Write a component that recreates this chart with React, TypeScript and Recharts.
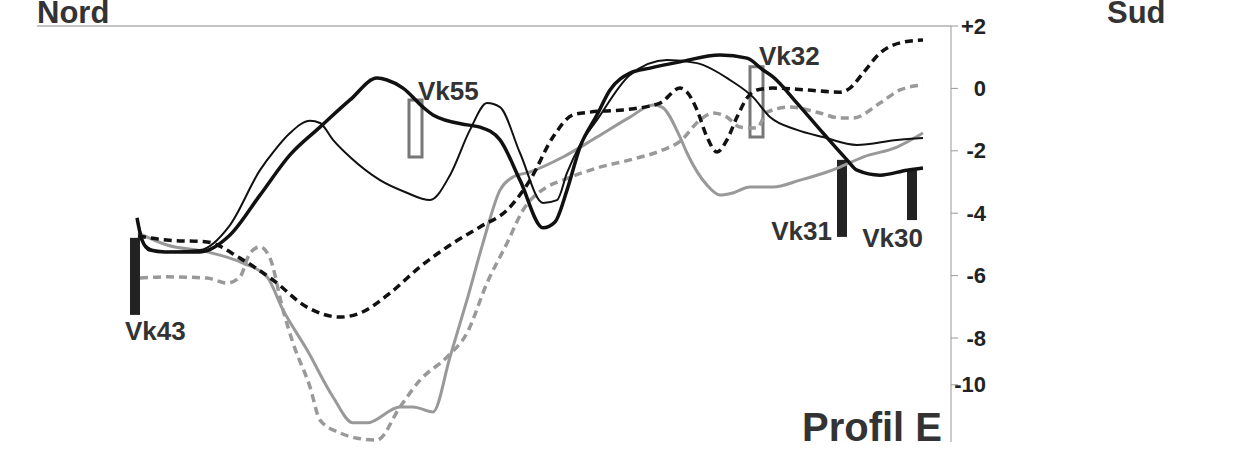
import React from 'react';
import { LineChart, Line, XAxis, YAxis, ReferenceLine, ReferenceArea } from 'recharts';

// distance along profile (arbitrary units), depth/elevation (m)
const thickBlack: [number, number][] = [
  [100, -4.15], [105, -4.86], [113, -5.18], [128, -5.24], [163, -5.24], [193, -4.7], [223, -3.42],
  [253, -2.13], [283, -1.24], [313, -0.37], [340, 0.33], [350, 0.27], [366, 0.01], [386, -0.6],
  [396, -0.85], [430, -1.17], [443, -1.24], [463, -1.65], [483, -2.94], [506, -4.47], [518, -4.28],
  [530, -3.26], [543, -1.88], [560, -0.85], [573, -0.05], [593, 0.49], [613, 0.65], [643, 0.85],
  [683, 1.07], [710, 0.97], [726, 0.59], [736, 0.37], [760, -0.47], [786, -1.43], [810, -2.29],
  [820, -2.62], [843, -2.78], [870, -2.62], [886, -2.55],
];

const thinBlack: [number, number][] = [
  [100, -4.15], [108, -5.02], [123, -5.24], [163, -5.18], [193, -4.38], [223, -2.62], [238, -1.97],
  [253, -1.43], [273, -1.04], [283, -1.11], [296, -1.65], [313, -2.2], [343, -2.94], [368, -3.32],
  [393, -3.58], [413, -2.78], [433, -1.33], [450, -0.47], [463, -0.6], [483, -2.07], [506, -3.67],
  [520, -3.58], [530, -2.71], [543, -1.81], [560, -1.01], [593, 0.43], [630, 0.91], [660, 0.81],
  [693, 0.27], [716, -0.28], [733, -0.92], [760, -1.33], [786, -1.56], [820, -1.81], [860, -1.65],
  [886, -1.59],
];

const blackDashed: [number, number][] = [
  [101, -4.73], [130, -4.86], [170, -4.92], [203, -5.44], [236, -6.14], [270, -7.01], [303, -7.33],
  [323, -7.2], [353, -6.56], [383, -5.72], [416, -4.96], [443, -4.44], [470, -3.9], [493, -2.94],
  [516, -1.56], [536, -0.85], [553, -0.76], [586, -0.69], [623, -0.47], [643, 0.01], [650, -0.12],
  [660, -0.69], [670, -1.56], [680, -2.04], [690, -1.65], [700, -0.92], [710, -0.31], [720, -0.05],
  [736, 0.01], [770, -0.05], [803, -0.12], [813, 0.01], [826, 0.49], [843, 1.13], [863, 1.46],
  [886, 1.55],
];

const graySolid: [number, number][] = [
  [101, -4.63], [130, -5.02], [170, -5.24], [206, -5.6], [230, -6.04], [246, -7.1], [270, -8.38],
  [296, -9.89], [316, -10.72], [330, -10.72], [363, -10.21], [376, -10.21], [396, -10.37],
  [413, -8.61], [430, -6.78], [446, -4.95], [463, -3.26], [476, -2.84], [493, -2.68], [526, -2.2],
  [560, -1.56], [593, -0.92], [616, -0.53], [625, -0.6], [643, -1.56], [650, -2.07], [670, -3.1],
  [683, -3.42], [696, -3.35], [713, -3.16], [736, -3.16], [763, -2.94], [790, -2.68], [803, -2.52],
  [826, -2.2], [860, -1.88], [886, -1.43],
];

const grayDashed: [number, number][] = [
  [103, -6.08], [130, -6.04], [170, -6.08], [190, -6.24], [203, -6.04], [213, -5.28], [223, -5.08],
  [233, -5.44], [246, -7.1], [256, -8.16], [273, -9.57], [283, -10.63], [303, -11.04], [320, -11.21],
  [340, -11.27], [363, -10.21], [383, -9.35], [410, -8.61], [430, -7.84], [450, -6.24], [470, -4.96],
  [486, -3.9], [510, -3.16], [526, -2.94], [560, -2.55], [593, -2.29], [626, -1.97], [643, -1.7],
  [663, -1.01], [676, -0.79], [690, -0.92], [703, -1.24], [720, -1.27], [730, -0.76], [753, -0.6],
  [783, -0.79], [803, -0.95], [816, -0.95], [843, -0.47], [863, -0.05], [886, 0.11],
];

// boreholes
const wellNames = ['Vk43', 'Vk55', 'Vk32', 'Vk31', 'Vk30'];
const wellFrom = [93, 372, 713, 800, 870];
const wellTo = [103, 385, 726, 810, 880];
const wellTop = [-4.79, -0.37, 0.69, -2.29, -2.62];
const wellBottom = [-7.26, -2.2, -1.56, -4.76, -4.22];
const wellFilled = [true, false, false, true, true];

const tickValues = [2, 0, -2, -4, -6, -8, -9.5];
const tickLabels = ['+2', '0', '-2', '-4', '-6', '-8', '-10'];

const FONT = '"Liberation Sans", Arial, Helvetica, sans-serif';

// label placement (styling only)
const labelPlace: Record<string, { anchor: 'start' | 'end'; ref: 'left' | 'right'; dx: number; vref: 'top' | 'bottom'; dy: number }> = {
  Vk43: { anchor: 'start', ref: 'left', dx: -5, vref: 'bottom', dy: 25 },
  Vk55: { anchor: 'start', ref: 'left', dx: 9, vref: 'top', dy: 0 },
  Vk32: { anchor: 'start', ref: 'left', dx: 9, vref: 'top', dy: -2 },
  Vk31: { anchor: 'end', ref: 'left', dx: -5, vref: 'bottom', dy: 3 },
  Vk30: { anchor: 'end', ref: 'right', dx: 6, vref: 'bottom', dy: 27 },
};

const toRows = (arr: [number, number][]) => arr.map(([d, z]) => ({ d, z }));

const RightTick = (props: any) => {
  const { x, y, payload } = props;
  const i = tickValues.indexOf(payload.value);
  return (
    <text x={x + 26} y={y} textAnchor="end" dominantBaseline="central" fontFamily={FONT} fontWeight="bold" fontSize={22} fill="#222">
      {i >= 0 ? tickLabels[i] : payload.value}
    </text>
  );
};

const makeLabel = (name: string) => (props: any) => {
  const vb = props.viewBox || {};
  const p = labelPlace[name];
  const bx = p.ref === 'left' ? vb.x : vb.x + vb.width;
  const by = p.vref === 'top' ? vb.y : vb.y + vb.height;
  return (
    <text x={bx + p.dx} y={by + p.dy} textAnchor={p.anchor} fontFamily={FONT} fontWeight="bold" fontSize={26} fill="#333">
      {name}
    </text>
  );
};

export default function App() {
  return (
    <div style={{ position: 'absolute', left: 0, top: 0, width: 1240, height: 450, background: '#fff' }}>
      <LineChart width={1240} height={450} margin={{ top: 26, right: 229, bottom: 8, left: 37 }}>
        <XAxis type="number" dataKey="d" domain={[0, 914]} allowDataOverflow hide />
        <YAxis
          orientation="right"
          type="number"
          domain={[-11.333, 2]}
          allowDataOverflow
          ticks={tickValues}
          interval={0}
          width={60}
          tickSize={7}
          tickMargin={2}
          axisLine={{ stroke: '#999', strokeWidth: 1 }}
          tickLine={{ stroke: '#999', strokeWidth: 1 }}
          tick={<RightTick />}
        />
        <ReferenceLine y={2} stroke="#888" strokeWidth={1} />
        <Line data={toRows(grayDashed)} dataKey="z" type="monotone" stroke="#999" strokeWidth={3.5} strokeDasharray="8 5" dot={false} isAnimationActive={false} />
        <Line data={toRows(graySolid)} dataKey="z" type="monotone" stroke="#999" strokeWidth={3} dot={false} isAnimationActive={false} />
        <Line data={toRows(blackDashed)} dataKey="z" type="monotone" stroke="#111" strokeWidth={3.5} strokeDasharray="8 5" dot={false} isAnimationActive={false} />
        <Line data={toRows(thinBlack)} dataKey="z" type="monotone" stroke="#111" strokeWidth={2} dot={false} isAnimationActive={false} />
        <Line data={toRows(thickBlack)} dataKey="z" type="monotone" stroke="#111" strokeWidth={3.5} dot={false} isAnimationActive={false} />
        {wellNames.map((n, i) => (
          <ReferenceArea
            key={n}
            x1={wellFrom[i]}
            x2={wellTo[i]}
            y1={wellBottom[i]}
            y2={wellTop[i]}
            fill={wellFilled[i] ? '#222' : 'none'}
            fillOpacity={1}
            stroke={wellFilled[i] ? 'none' : '#777'}
            strokeWidth={wellFilled[i] ? 0 : 3}
            label={makeLabel(n)}
          />
        ))}
      </LineChart>
      <svg width={1240} height={450} style={{ position: 'absolute', left: 0, top: 0, pointerEvents: 'none' }}>
        <text x={37} y={23} fontFamily={FONT} fontWeight="bold" fontSize={31} fill="#333">Nord</text>
        <text x={1107} y={23} fontFamily={FONT} fontWeight="bold" fontSize={31} fill="#333">Sud</text>
        <text x={942} y={441} textAnchor="end" fontFamily={FONT} fontWeight="bold" fontSize={40} fill="#333">Profil E</text>
      </svg>
    </div>
  );
}
